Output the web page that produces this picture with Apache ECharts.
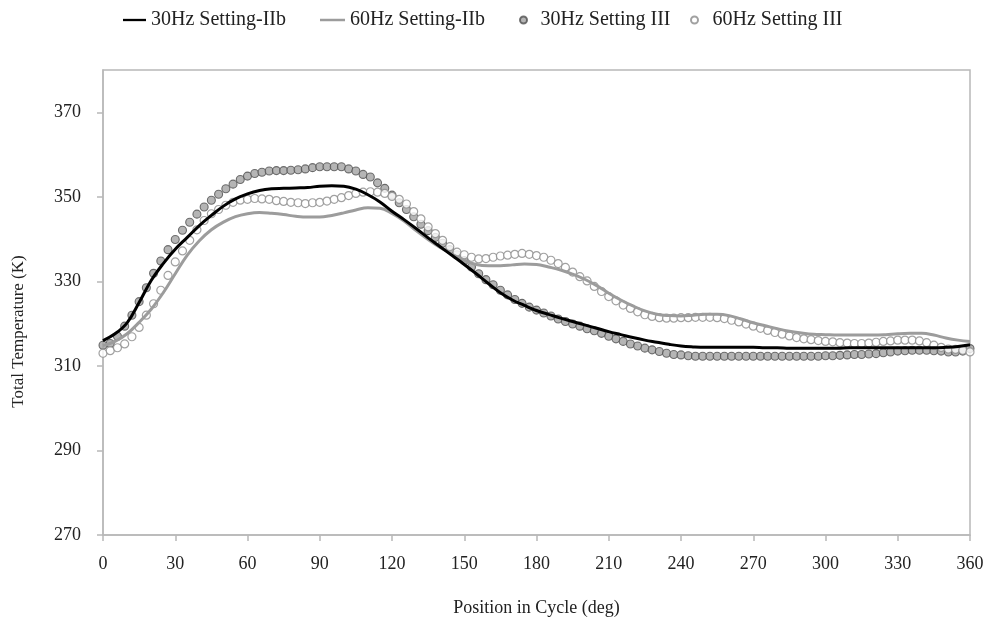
<!DOCTYPE html>
<html>
<head>
<meta charset="utf-8">
<script src="https://cdn.jsdelivr.net/npm/echarts@6/dist/echarts.min.js"></script>
<style>
html,body{margin:0;padding:0;background:#fff;}
#chart{width:990px;height:628px;}
</style>
</head>
<body>
<div id="chart"></div>
<script>
// ---- Data ----
const seriesNames = ['30Hz Setting-IIb', '60Hz Setting-IIb', '30Hz Setting III', '60Hz Setting III'];

const xTickLabels = [0, 30, 60, 90, 120, 150, 180, 210, 240, 270, 300, 330, 360];
const yTickLabels = [270, 290, 310, 330, 350, 370];

// Positions (deg) of the line samples
const degLine = [0,5,10,15,20,25,30,35,40,45,50,55,60,65,70,75,80,85,90,95,100,105,110,115,120,125,130,135,140,145,150,155,160,165,170,175,180,185,190,195,200,205,210,215,220,225,230,235,240,245,250,255,260,265,270,275,280,285,290,295,300,305,310,315,320,325,330,335,340,345,350,355,360];

const temp30IIb = [316.0,317.6,320.2,325.0,330.2,334.2,337.6,340.4,343.2,345.6,347.8,349.5,350.7,351.5,351.9,352.0,352.1,352.2,352.5,352.6,352.5,351.8,350.5,348.8,346.6,344.6,342.5,340.3,338.2,336.1,334.0,331.8,329.5,327.3,325.6,324.3,323.1,322.2,321.3,320.5,319.7,318.9,318.1,317.4,316.7,316.1,315.6,315.1,314.7,314.5,314.4,314.4,314.4,314.4,314.4,314.3,314.3,314.2,314.2,314.2,314.2,314.2,314.3,314.3,314.3,314.3,314.3,314.3,314.3,314.3,314.4,314.6,315.0];

const temp60IIb = [314.8,315.8,317.6,320.3,323.4,327.3,331.8,336.2,339.6,342.2,344.0,345.3,346.0,346.3,346.1,345.8,345.4,345.2,345.2,345.6,346.2,346.9,347.4,347.3,346.1,344.3,342.0,339.9,338.0,336.4,335.0,334.0,333.7,333.7,333.9,334.1,334.0,333.4,332.7,331.7,330.5,329.0,327.2,325.6,324.2,323.0,322.2,321.9,321.8,322.0,322.2,322.2,321.9,321.1,320.2,319.5,318.8,318.2,317.8,317.5,317.4,317.3,317.3,317.3,317.3,317.4,317.6,317.7,317.7,317.3,316.6,316.1,315.8];

// Positions (deg) of the markers
const degMarker = [0,3,6,9,12,15,18,21,24,27,30,33,36,39,42,45,48,51,54,57,60,63,66,69,72,75,78,81,84,87,90,93,96,99,102,105,108,111,114,117,120,123,126,129,132,135,138,141,144,147,150,153,156,159,162,165,168,171,174,177,180,183,186,189,192,195,198,201,204,207,210,213,216,219,222,225,228,231,234,237,240,243,246,249,252,255,258,261,264,267,270,273,276,279,282,285,288,291,294,297,300,303,306,309,312,315,318,321,324,327,330,333,336,339,342,345,348,351,354,357,360];

const temp30III = [314.9,315.3,317.0,319.4,322.0,325.2,328.5,331.9,334.8,337.5,339.9,342.1,344.0,345.9,347.6,349.2,350.6,351.9,353.0,354.1,354.9,355.5,355.8,356.1,356.2,356.2,356.3,356.4,356.6,356.9,357.1,357.1,357.1,357.1,356.6,356.1,355.3,354.7,353.3,352.0,350.4,348.6,347.0,345.3,343.5,342.0,340.4,339.0,337.5,336.3,334.9,333.4,331.8,330.4,329.2,327.9,326.8,325.7,324.8,323.9,323.2,322.5,321.8,321.1,320.5,319.9,319.4,318.8,318.3,317.7,317.0,316.4,315.8,315.2,314.7,314.2,313.8,313.4,313.0,312.7,312.6,312.4,312.3,312.3,312.3,312.3,312.3,312.3,312.3,312.3,312.3,312.3,312.3,312.3,312.3,312.3,312.3,312.3,312.3,312.3,312.4,312.4,312.5,312.6,312.7,312.7,312.8,312.9,313.1,313.3,313.5,313.6,313.7,313.7,313.7,313.6,313.5,313.3,313.3,313.5,314.1];

const temp60III = [313.0,313.6,314.3,315.2,316.9,319.1,322.0,324.7,327.9,331.4,334.6,337.2,339.7,342.2,344.4,346.0,347.0,348.0,348.7,349.2,349.4,349.6,349.5,349.4,349.1,348.9,348.7,348.6,348.4,348.6,348.7,349.0,349.4,349.8,350.3,350.8,351.1,351.2,351.1,350.8,350.1,349.4,348.3,346.5,344.8,342.9,341.3,339.7,338.2,336.9,336.3,335.7,335.3,335.4,335.7,336.0,336.2,336.4,336.6,336.4,336.1,335.7,335.0,334.2,333.3,332.2,331.1,330.1,328.8,327.6,326.4,325.4,324.4,323.6,322.8,322.1,321.7,321.4,321.3,321.3,321.4,321.4,321.5,321.5,321.5,321.4,321.2,320.8,320.4,319.9,319.4,318.9,318.4,317.9,317.5,317.1,316.7,316.4,316.2,316.0,315.8,315.7,315.5,315.4,315.3,315.3,315.4,315.6,315.8,315.9,316.1,316.1,316.1,315.9,315.5,314.9,314.4,314.0,313.9,313.7,313.3];

// ---- Chart ----
const zip = (xs, ys) => xs.map((x, i) => [x, ys[i]]);
const FONT = '"Liberation Serif", "DejaVu Serif", serif';
const TXT = '#222';
const AXIS = '#b8b8b8';
const LINE_ICON = 'path://M0,0L30,0L30,3L0,3Z';

const legendBase = {
  orient: 'horizontal',
  top: 10,
  padding: 0,
  itemHeight: 7,
  textStyle: { fontFamily: FONT, fontSize: 20, color: TXT },
  selectedMode: false
};

const option = {
  animation: false,
  backgroundColor: '#ffffff',
  legend: [
    Object.assign({}, legendBase, { left: 123, itemWidth: 23, data: [{ name: seriesNames[0], icon: LINE_ICON, itemStyle: { color: '#000' } }] }),
    Object.assign({}, legendBase, { left: 320, itemWidth: 25, data: [{ name: seriesNames[1], icon: LINE_ICON, itemStyle: { color: '#9c9c9c' } }] }),
    Object.assign({}, legendBase, { left: 519, itemWidth: 24, data: [seriesNames[2]] }),
    Object.assign({}, legendBase, { left: 690, itemWidth: 26, data: [seriesNames[3]] })
  ],
  grid: { left: 103, right: 20, top: 70, bottom: 93, show: true, borderColor: AXIS, borderWidth: 1.5, backgroundColor: 'transparent' },
  xAxis: {
    type: 'value', min: 0, max: 360, interval: 30,
    name: 'Position in Cycle (deg)', nameLocation: 'middle', nameGap: 64,
    nameTextStyle: { fontFamily: FONT, fontSize: 18, color: TXT },
    axisLine: { show: true, lineStyle: { color: AXIS, width: 1.5 } },
    axisTick: { show: true, inside: false, length: 6, lineStyle: { color: AXIS, width: 1.5 } },
    axisLabel: { fontFamily: FONT, fontSize: 18, color: TXT, margin: 20 },
    splitLine: { show: false }
  },
  yAxis: {
    type: 'value', min: 270, max: 380,
    name: 'Total Temperature (K)', nameLocation: 'middle', nameGap: 76, nameRotate: 90,
    nameTextStyle: { fontFamily: FONT, fontSize: 17, color: TXT, padding: [0, 58, 0, 0] },
    axisLine: { show: true, lineStyle: { color: AXIS, width: 1.5 } },
    axisTick: { show: true, inside: false, length: 6, customValues: yTickLabels, lineStyle: { color: AXIS, width: 1.5 } },
    axisLabel: { fontFamily: FONT, fontSize: 18, color: TXT, margin: 22, customValues: yTickLabels },
    splitLine: { show: false }
  },
  series: [
    {
      name: seriesNames[2], type: 'scatter', z: 2,
      symbol: 'circle', symbolSize: 8,
      itemStyle: { color: '#a3a3a3', borderColor: '#505050', borderWidth: 1.1 },
      data: zip(degMarker, temp30III)
    },
    {
      name: seriesNames[3], type: 'scatter', z: 3,
      symbol: 'circle', symbolSize: 8,
      itemStyle: { color: '#ffffff', borderColor: '#8a8a8a', borderWidth: 1.2 },
      data: zip(degMarker, temp60III)
    },
    {
      name: seriesNames[1], type: 'line', z: 4, smooth: 0.4,
      symbol: 'none', showSymbol: false,
      lineStyle: { color: '#9c9c9c', width: 3 },
      itemStyle: { color: '#9c9c9c' },
      data: zip(degLine, temp60IIb)
    },
    {
      name: seriesNames[0], type: 'line', z: 5, smooth: 0.4,
      symbol: 'none', showSymbol: false,
      lineStyle: { color: '#000000', width: 3 },
      itemStyle: { color: '#000000' },
      data: zip(degLine, temp30IIb)
    }
  ]
};

const chart = echarts.init(document.getElementById('chart'), null, { renderer: 'canvas' });
chart.setOption(option);
</script>
</body>
</html>
